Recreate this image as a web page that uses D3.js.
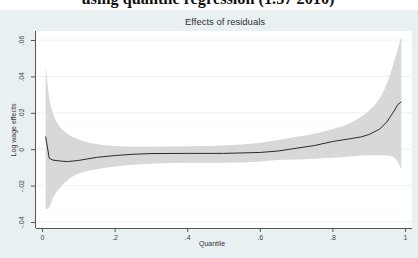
<!DOCTYPE html>
<html>
<head>
<meta charset="utf-8">
<script src="https://cdn.jsdelivr.net/npm/d3@7"></script>
<style>
    body { margin: 0; background: white; }
    text { font-family: "Liberation Sans", Arial, sans-serif; }
</style>
</head>
<body>
<div id="chart"></div>
<script>
// Quantile regression: effect of residuals on log wage, with confidence band
const quantiles = [0.01, 0.02, 0.03, 0.05, 0.07, 0.1, 0.15, 0.2, 0.25, 0.3, 0.4, 0.5, 0.6, 0.65, 0.7, 0.75, 0.8, 0.85, 0.88, 0.9, 0.93, 0.95, 0.97, 0.98, 0.99]
const effects = [0.007, -0.005, -0.006, -0.0065, -0.0068, -0.0062, -0.0045, -0.0035, -0.0028, -0.0024, -0.0023, -0.0023, -0.0018, -0.001, 0.0005, 0.002, 0.0042, 0.0058, 0.0068, 0.008, 0.011, 0.015, 0.021, 0.0245, 0.026]
const upperBound = [0.046, 0.028, 0.02, 0.012, 0.0085, 0.0055, 0.0028, 0.0018, 0.0014, 0.0014, 0.0016, 0.002, 0.0035, 0.005, 0.0068, 0.0085, 0.011, 0.0145, 0.018, 0.021, 0.028, 0.036, 0.048, 0.055, 0.062]
const lowerBound = [-0.033, -0.032, -0.027, -0.021, -0.017, -0.0135, -0.011, -0.0095, -0.0085, -0.008, -0.0075, -0.0075, -0.0068, -0.006, -0.0056, -0.0052, -0.0047, -0.004, -0.0035, -0.0033, -0.0033, -0.0035, -0.0045, -0.007, -0.011]

const xTicks = [0, 0.2, 0.4, 0.6, 0.8, 1]
const xTickLabels = ['0', '.2', '.4', '.6', '.8', '1']
const yTicks = [-0.04, -0.02, 0, 0.02, 0.04, 0.06]
const yTickLabels = ['-.04', '-.02', '0', '.02', '.04', '.06']

function getTranslateString(x, y) {
    return 'translate(' + x + ', ' + y + ')'
}

class ResidualEffectsChart {
    constructor(width, height, divElementName) {
        this.width = width
        this.height = height
        this.divElementName = divElementName
        this.axisColor = '#555'
        this.initialize()
    }

    initialize = () => {
        this.createSVGInstance()
        this.drawBackground()
        this.createScales()
        this.drawGridLines()
        this.drawBand()
        this.drawEffectLine()
        this.drawAxes()
        this.drawLabels()
    }

    createSVGInstance = () => {
        this.svg = d3.select(this.divElementName).append('svg').attr('width', this.width).attr('height', this.height)
    }

    drawBackground = () => {
        // outer graph region (light blue-grey) and the white plot region
        this.svg.append('rect').attr('x', 0).attr('y', 10).attr('width', this.width).attr('height', this.height - 10).style('fill', '#e9f0f2')
        this.svg.append('rect').attr('x', 36).attr('y', 31).attr('width', 376).attr('height', 197).style('fill', 'white')
    }

    createScales = () => {
        this.xScale = d3.scaleLinear().domain([0, 1]).range([42, 405])
        this.yScale = d3.scaleLinear().domain([-0.04, 0.06]).range([222, 40])
        this.bandData = quantiles.map((q, i) => ({q: q, lo: lowerBound[i], hi: upperBound[i], b: effects[i]}))
    }

    drawGridLines = () => {
        for (let t of yTicks) {
            let y = this.yScale(t)
            this.svg.append('line').attr('x1', 36).attr('x2', 412).attr('y1', y).attr('y2', y).style('stroke', '#eaf2f3').style('stroke-width', 1)
        }
    }

    drawBand = () => {
        let area = d3.area().x(d => this.xScale(d.q)).y0(d => this.yScale(d.lo)).y1(d => this.yScale(d.hi)).curve(d3.curveMonotoneX)
        this.svg.append('path').datum(this.bandData).attr('d', area).style('fill', '#d8d8d8')
    }

    drawEffectLine = () => {
        let line = d3.line().x(d => this.xScale(d.q)).y(d => this.yScale(d.b))
        this.svg.append('path').datum(this.bandData).attr('d', line).style('fill', 'none').style('stroke', '#2a2a2a').style('stroke-width', 1)
    }

    drawAxes = () => {
        let xAxis = d3.axisBottom(this.xScale).tickValues(xTicks).tickFormat((d, i) => xTickLabels[i]).tickSize(4).tickSizeOuter(0)
        let gx = this.svg.append('g').attr('transform', getTranslateString(0, 228)).call(xAxis)
        gx.select('.domain').attr('d', 'M36,0.5H412').style('stroke', this.axisColor)
        gx.selectAll('.tick line').style('stroke', this.axisColor)
        gx.selectAll('.tick text').attr('y', 7).attr('font-size', 7).style('fill', '#444')

        let yAxis = d3.axisLeft(this.yScale).tickValues(yTicks).tickFormat((d, i) => yTickLabels[i]).tickSize(4).tickSizeOuter(0)
        let gy = this.svg.append('g').attr('transform', getTranslateString(35, 0)).call(yAxis)
        gy.select('.domain').attr('d', 'M0.5,31V228').style('stroke', this.axisColor)
        gy.selectAll('.tick line').style('stroke', this.axisColor)
        // Stata-style vertical tick labels on the y axis
        gy.selectAll('.tick text').attr('x', null).attr('dy', null).attr('transform', 'translate(-11, 0) rotate(-90)')
            .attr('text-anchor', 'middle').attr('font-size', 7).style('fill', '#444')
    }

    createLabel = (x, y, label, fontsize) => {
        return this.svg.append('text').attr('x', x).attr('y', y).text(label).attr('font-size', fontsize).attr('text-anchor', 'middle').style('fill', '#333')
    }

    drawLabels = () => {
        // caption from the page above, mostly cut off at the top edge (as in the source image)
        this.createLabel(208, 3.5, 'using quantile regression (1.57 2010)', 17).attr('font-weight', 'bold')
            .attr('textLength', 253).attr('lengthAdjust', 'spacingAndGlyphs')
            .style('font-family', '"Liberation Serif", serif').style('fill', '#111')
        this.createLabel(225, 25, 'Effects of residuals', 9.5)
        this.createLabel(212, 246, 'Quantile', 7)
        this.createLabel(0, 0, 'Log wage effects', 7).attr('transform', getTranslateString(16, 130) + ' rotate(-90)')
    }
}

let chart = new ResidualEffectsChart(418, 258, '#chart')
</script>
</body>
</html>
